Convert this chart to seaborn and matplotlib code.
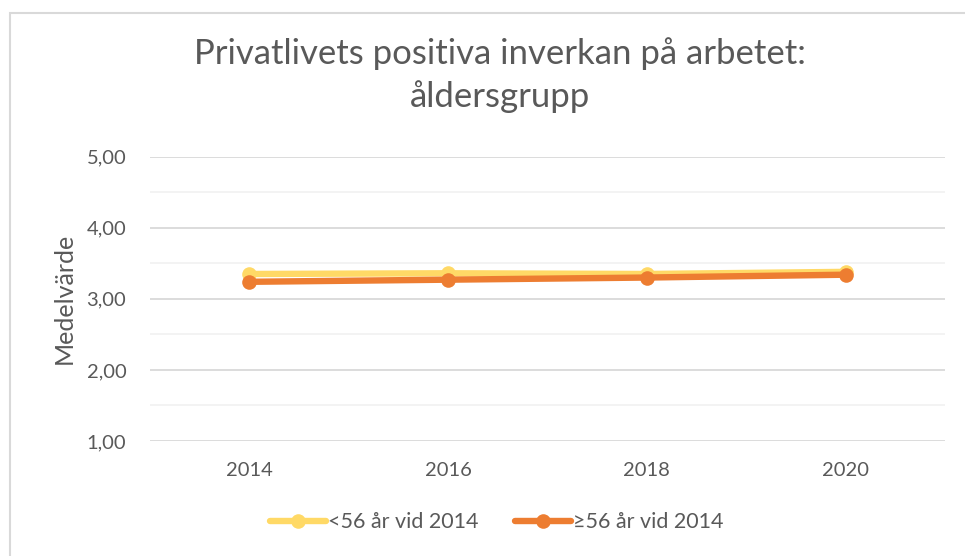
import matplotlib
matplotlib.use("Agg")
import matplotlib.pyplot as plt
import matplotlib.patches as mpatches
import seaborn as sns
import pandas as pd

years = ["2014", "2016", "2018", "2020"]
under_56 = [3.35, 3.36, 3.35, 3.38]
over_56 = [3.24, 3.27, 3.30, 3.34]
series_names = ["<56 år vid 2014", "≥56 år vid 2014"]
colors = ["#FFD966", "#ED7D31"]
title = "Privatlivets positiva inverkan på arbetet:\nåldersgrupp"
y_label = "Medelvärde"
y_ticks = [1, 2, 3, 4, 5]

df = pd.DataFrame({
    "år": years * 2,
    "värde": under_56 + over_56,
    "grupp": [series_names[0]] * len(years) + [series_names[1]] * len(years),
})

sns.set_theme(style="white")
plt.rcParams["font.family"] = ["Lato", "DejaVu Sans"]
text_color = "#595959"

fig = plt.figure(figsize=(9.65, 5.56), dpi=100)
ax = fig.add_axes([0.1554, 0.207, 0.824, 0.511])

sns.lineplot(data=df, x="år", y="värde", hue="grupp", palette=colors,
             hue_order=series_names, marker="o", markersize=10.5,
             markeredgewidth=0, linewidth=4.6, ax=ax, sort=False)

ax.set_xlim(-0.5, len(years) - 0.5)
ax.set_ylim(1, 5)
ax.set_yticks(y_ticks)
ax.set_yticks([1.5, 2.5, 3.5, 4.5], minor=True)
ax.set_yticklabels([f"{v:.2f}".replace(".", ",") for v in y_ticks])
ax.grid(axis="y", which="major", color="#d9d9d9", linewidth=1.3)
ax.grid(axis="y", which="minor", color="#f2f2f2", linewidth=1.3)
ax.grid(axis="x", visible=False)
ax.set_axisbelow(True)
for side in ["top", "right", "left", "bottom"]:
    ax.spines[side].set_visible(False)
ax.tick_params(axis="y", which="both", length=0, pad=17, labelsize=14.5,
               labelcolor=text_color)
ax.tick_params(axis="x", length=0, pad=15, labelsize=14.5, labelcolor=text_color)
ax.set_xlabel("")
ax.set_ylabel(y_label, fontsize=18, color=text_color, labelpad=8)

fig.text(0.518, 0.934, title, ha="center", va="top", fontsize=25,
         color=text_color, linespacing=1.4)

leg = ax.legend(loc="center", bbox_to_anchor=(0.5145, 0.061),
                bbox_transform=fig.transFigure, ncol=2, frameon=False,
                fontsize=15.5, handlelength=2.6, handletextpad=0.1,
                columnspacing=1.7)
for t in leg.get_texts():
    t.set_color(text_color)

fig.patches.append(mpatches.Rectangle((10 / 965, -0.1), 1.2, 1.1 - 13 / 556,
                                      transform=fig.transFigure, fill=False,
                                      edgecolor="#d9d9d9", linewidth=1.5))

fig.savefig("out.png", dpi=100, facecolor="white")
